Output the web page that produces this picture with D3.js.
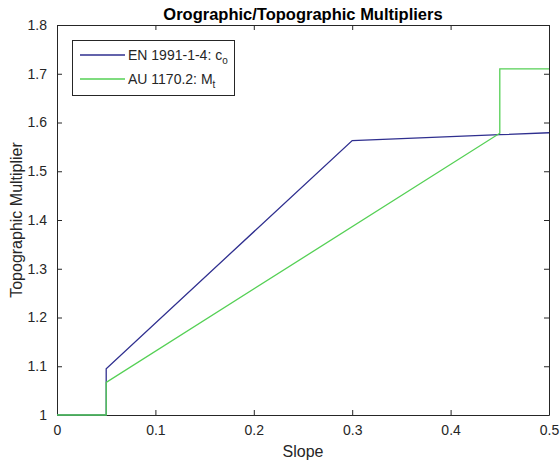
<!DOCTYPE html>
<html>
<head>
<meta charset="utf-8">
<script src="https://cdn.jsdelivr.net/npm/d3@7"></script>
<style>
  body { margin: 0; background: #fff; }
  svg text { font-family: "Liberation Sans", Arial, sans-serif; fill: #262626; }
</style>
</head>
<body>
<div id="chart"></div>
<script>
var width = 560;
var height = 463;

// data
var enSlope = [0, 0.05, 0.05, 0.3, 0.45, 0.5];
var enMult  = [1, 1, 1.095, 1.563, 1.575, 1.579];
var auSlope = [0, 0.05, 0.05, 0.45, 0.45, 0.5];
var auMult  = [1, 1, 1.067, 1.578, 1.71, 1.71];
var xTicks = [0, 0.1, 0.2, 0.3, 0.4, 0.5];
var yTicks = [1, 1.1, 1.2, 1.3, 1.4, 1.5, 1.6, 1.7, 1.8];

var margin = {left: 57, right: 11, top: 25, bottom: 48};

var xScale = d3.scaleLinear().domain([0, 0.5]).range([margin.left, width - margin.right]);
var yScale = d3.scaleLinear().domain([1, 1.8]).range([height - margin.bottom, margin.top]);

var svg = d3.select("#chart").append("svg")
    .attr("width", width)
    .attr("height", height);

var fmt = function(d) { return d3.format("")(+d.toFixed(1)); };

// axes, ticks pointing inward like matlab
var xAxis = d3.axisBottom(xScale).tickValues(xTicks).tickSizeInner(-5).tickSizeOuter(0).tickPadding(10).tickFormat(fmt);
var xAxisTop = d3.axisTop(xScale).tickValues(xTicks).tickSizeInner(-5).tickSizeOuter(0).tickFormat("");
var yAxis = d3.axisLeft(yScale).tickValues(yTicks).tickSizeInner(-5).tickSizeOuter(0).tickPadding(10).tickFormat(fmt);
var yAxisRight = d3.axisRight(yScale).tickValues(yTicks).tickSizeInner(-5).tickSizeOuter(0).tickFormat("");

function styleAxis(g) {
    g.select(".domain").attr("stroke", "#262626");
    g.selectAll(".tick line").attr("stroke", "#262626");
    g.selectAll(".tick text").style("font-size", "14px").style("font-family", "Liberation Sans, Arial, sans-serif").attr("fill", "#262626");
}

svg.append("g").attr("transform", "translate(0," + yScale(1) + ")").call(xAxis).call(styleAxis);
svg.append("g").attr("transform", "translate(0," + yScale(1.8) + ")").call(xAxisTop).call(styleAxis);
svg.append("g").attr("transform", "translate(" + xScale(0) + ",0)").call(yAxis).call(styleAxis);
svg.append("g").attr("transform", "translate(" + xScale(0.5) + ",0)").call(yAxisRight).call(styleAxis);

// lines
var line = d3.line()
    .x(function(d) { return xScale(d[0]); })
    .y(function(d) { return yScale(d[1]); });

var enData = enSlope.map(function(s, i) { return [s, enMult[i]]; });
var auData = auSlope.map(function(s, i) { return [s, auMult[i]]; });

svg.append("path").datum(enData)
    .attr("d", line)
    .attr("fill", "none")
    .attr("stroke", "#2f2f8f")
    .attr("stroke-width", 1.3);

svg.append("path").datum(auData)
    .attr("d", line)
    .attr("fill", "none")
    .attr("stroke", "#55d055")
    .attr("stroke-width", 1.3);

// title and labels
svg.append("text")
    .attr("x", (xScale(0) + xScale(0.5)) / 2)
    .attr("y", 20)
    .attr("text-anchor", "middle")
    .style("font-size", "16.5px")
    .style("font-weight", "bold")
    .style("fill", "#000")
    .text("Orographic/Topographic Multipliers");

svg.append("text")
    .attr("x", (xScale(0) + xScale(0.5)) / 2)
    .attr("y", 457)
    .attr("text-anchor", "middle")
    .style("font-size", "16px")
    .text("Slope");

svg.append("text")
    .attr("transform", "translate(22," + (yScale(1.4)) + ") rotate(-90)")
    .attr("text-anchor", "middle")
    .style("font-size", "16px")
    .text("Topographic Multiplier");

// legend
var legend = svg.append("g");
legend.append("rect")
    .attr("x", 72.5).attr("y", 40.5)
    .attr("width", 162).attr("height", 55)
    .attr("fill", "#fff")
    .attr("stroke", "#262626");

var legendItems = [
    {color: "#2f2f8f", main: "EN 1991-1-4: c", sub: "o", y: 55},
    {color: "#55d055", main: "AU 1170.2: M", sub: "t", y: 79}
];

legendItems.forEach(function(d) {
    legend.append("line")
        .attr("x1", 80).attr("x2", 125)
        .attr("y1", d.y).attr("y2", d.y)
        .attr("stroke", d.color)
        .attr("stroke-width", 1.3);
    var t = legend.append("text")
        .attr("x", 128)
        .attr("y", d.y + 5)
        .style("font-size", "14px");
    t.append("tspan").text(d.main);
    t.append("tspan").attr("dy", 4).style("font-size", "10px").text(d.sub);
});
</script>
</body>
</html>
